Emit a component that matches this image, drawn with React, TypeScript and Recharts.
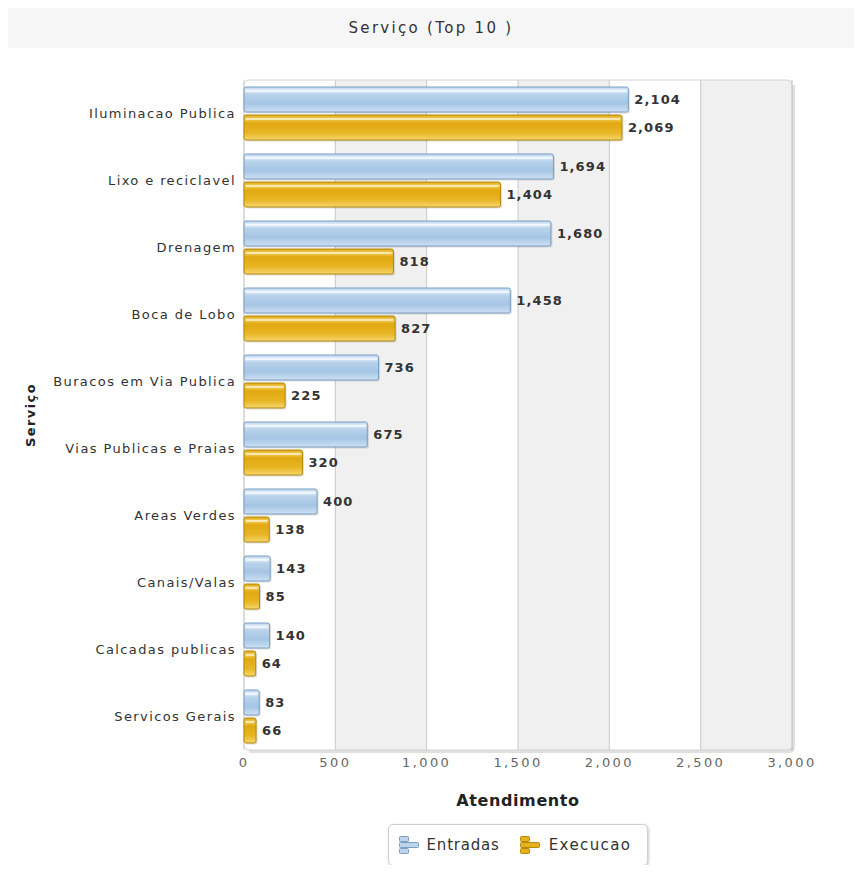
import React from "react";
import {
  BarChart,
  Bar,
  XAxis,
  YAxis,
  CartesianGrid,
  Legend,
  LabelList,
  Label,
} from "recharts";

// --- data ---
const categories = [
  "Iluminacao Publica",
  "Lixo e reciclavel",
  "Drenagem",
  "Boca de Lobo",
  "Buracos em Via Publica",
  "Vias Publicas e Praias",
  "Areas Verdes",
  "Canais/Valas",
  "Calcadas publicas",
  "Servicos Gerais",
];
const entradas = [2104, 1694, 1680, 1458, 736, 675, 400, 143, 140, 83];
const execucao = [2069, 1404, 818, 827, 225, 320, 138, 85, 64, 66];
const xTicks = [0, 500, 1000, 1500, 2000, 2500, 3000];

const data = categories.map((name, i) => ({
  name,
  entradas: entradas[i],
  execucao: execucao[i],
}));

const W = 846;
const H = 825;
const MARGIN = { top: 32, right: 62, left: 0, bottom: 93 };
const Y_AXIS_W = 236;
const X_AXIS_H = 30;
// plot box, derived from the margins above
const PLOT = {
  x: MARGIN.left + Y_AXIS_W,
  y: MARGIN.top,
  w: W - MARGIN.left - Y_AXIS_W - MARGIN.right,
  h: H - MARGIN.top - MARGIN.bottom - X_AXIS_H,
};

const FONT = "'DejaVu Sans', Verdana, sans-serif";
const fmt = (v: number) => Number(v).toLocaleString("en-US");

const BLUE_STROKE = "#7a9fc4";
const GOLD_STROKE = "#b38a0d";

const GlassBar = (props: any) => {
  const { x, y, width, height, grad, stroke } = props;
  if (!width || width <= 0) return null;
  return (
    <g>
      <rect x={x + 1.5} y={y + 1.5} width={width} height={height} rx={2} fill="rgba(0,0,0,0.13)" />
      <rect x={x} y={y} width={width} height={height} rx={2} fill={`url(#${grad})`} stroke={stroke} strokeWidth={1} />
      {width > 6 && (
        <rect x={x + 2} y={y + 3} width={width - 4} height={2} fill="rgba(255,255,255,0.55)" />
      )}
    </g>
  );
};

// gradients + soft shadow along the right and bottom of the plot box
const PlotDecor = () => {
  const r = PLOT.x + PLOT.w;
  const b = PLOT.y + PLOT.h;
  return (
    <g>
      <defs>
        <linearGradient id="gBlue" x1="0" y1="0" x2="0" y2="1">
          <stop offset="0" stopColor="#bcd4ec" />
          <stop offset="0.14" stopColor="#e2eef9" />
          <stop offset="0.3" stopColor="#b8d2eb" />
          <stop offset="0.65" stopColor="#a5c5e5" />
          <stop offset="1" stopColor="#cde0f2" />
        </linearGradient>
        <linearGradient id="gGold" x1="0" y1="0" x2="0" y2="1">
          <stop offset="0" stopColor="#e0a510" />
          <stop offset="0.15" stopColor="#f4d05a" />
          <stop offset="0.32" stopColor="#e1a810" />
          <stop offset="0.7" stopColor="#e8b524" />
          <stop offset="1" stopColor="#f6d66d" />
        </linearGradient>
      </defs>
      <path
        d={`M${r + 1.5},${PLOT.y + 5} L${r + 1.5},${b - 3} Q${r + 1.5},${b + 1.5} ${r - 3},${b + 1.5} L${PLOT.x + 5},${b + 1.5}`}
        fill="none"
        stroke="rgba(0,0,0,0.12)"
        strokeWidth={3}
      />
      <rect x={PLOT.x} y={PLOT.y} width={PLOT.w} height={PLOT.h} rx={5} fill="none" stroke="#d4d4d4" />
    </g>
  );
};

const LegendIcon = ({ fill, stroke }: { fill: string; stroke: string }) => (
  <svg width={20} height={20}>
    <rect x={0.5} y={1.5} width={9} height={5} rx={1} fill={fill} stroke={stroke} />
    <rect x={0.5} y={7.5} width={19} height={5} rx={1} fill={fill} stroke={stroke} />
    <rect x={0.5} y={13.5} width={9} height={5} rx={1} fill={fill} stroke={stroke} />
  </svg>
);

const LegendBox = () => (
  <div style={{ display: "flex", justifyContent: "center" }}>
    <div
      style={{
        display: "inline-flex",
        alignItems: "center",
        boxSizing: "border-box",
        height: 42,
        padding: "0 16px 0 10px",
        border: "1px solid #cfcfcf",
        borderRadius: 5,
        boxShadow: "1px 1px 3px rgba(0,0,0,0.2)",
        background: "#fff",
        fontFamily: FONT,
        fontSize: 15,
        letterSpacing: 0.8,
        color: "#333",
      }}
    >
      <LegendIcon fill="#bcd5ec" stroke={BLUE_STROKE} />
      <span style={{ marginLeft: 8, marginRight: 20 }}>Entradas</span>
      <LegendIcon fill="#e6b11c" stroke={GOLD_STROKE} />
      <span style={{ marginLeft: 9, letterSpacing: 1.4 }}>Execucao</span>
    </div>
  </div>
);

export default function App() {
  return (
    <div style={{ width: W, marginBottom: -8 }}>
      <div
        style={{
          height: 40,
          lineHeight: "40px",
          background: "#f6f6f6",
          textAlign: "center",
          fontFamily: FONT,
          fontSize: 15,
          letterSpacing: 2.3,
          color: "#333",
        }}
      >
        Serviço (Top 10 )
      </div>
      <BarChart
        width={W}
        height={H}
        data={data}
        layout="vertical"
        margin={MARGIN}
        barSize={25}
        barGap={3}
      >
        <CartesianGrid
          horizontal={false}
          stroke="#c9c9c9"
          strokeDasharray="0"
          verticalFill={["#ffffff", "#f0f0f0"]}
          fillOpacity={1}
        />
        <PlotDecor />
        <XAxis
          type="number"
          domain={[0, 3000]}
          ticks={xTicks}
          tickFormatter={fmt}
          axisLine={false}
          tickLine={false}
          height={X_AXIS_H}
          tick={{ fill: "#666", fontSize: 13, fontFamily: FONT, letterSpacing: 2.4 } as any}
        >
          <Label
            content={({ viewBox }: any) => (
              <text
                x={viewBox.x + viewBox.width / 2}
                y={viewBox.y + 56}
                textAnchor="middle"
                fontFamily={FONT}
                fontSize={16}
                fontWeight="bold"
                letterSpacing={0.6}
                fill="#222"
              >
                Atendimento
              </text>
            )}
          />
        </XAxis>
        <YAxis
          type="category"
          dataKey="name"
          width={Y_AXIS_W}
          axisLine={false}
          tickLine={false}
          interval={0}
          tick={{ fill: "#333", fontSize: 13, fontFamily: FONT, letterSpacing: 1.4 } as any}
        >
          <Label
            content={({ viewBox }: any) => {
              const cx = viewBox.x + 27;
              const cy = viewBox.y + viewBox.height / 2;
              return (
                <text
                  x={cx}
                  y={cy}
                  transform={`rotate(-90, ${cx}, ${cy})`}
                  textAnchor="middle"
                  fontFamily={FONT}
                  fontSize={13}
                  fontWeight="bold"
                  letterSpacing={1.4}
                  fill="#222"
                >
                  Serviço
                </text>
              );
            }}
          />
        </YAxis>
        <Legend
          verticalAlign="middle"
          align="center"
          layout="horizontal"
          wrapperStyle={{ top: 776, left: PLOT.x, width: PLOT.w }}
          content={() => <LegendBox />}
        />
        <Bar
          dataKey="entradas"
          name="Entradas"
          fill="#bcd5ec"
          isAnimationActive={false}
          shape={(p: any) => <GlassBar {...p} grad="gBlue" stroke={BLUE_STROKE} />}
        >
          <LabelList
            dataKey="entradas"
            position="right"
            offset={6}
            formatter={(v: any) => fmt(v)}
            style={{ fill: "#333", fontSize: 13, fontWeight: "bold", fontFamily: FONT, letterSpacing: 1.1 }}
          />
        </Bar>
        <Bar
          dataKey="execucao"
          name="Execucao"
          fill="#e6b11c"
          isAnimationActive={false}
          shape={(p: any) => <GlassBar {...p} grad="gGold" stroke={GOLD_STROKE} />}
        >
          <LabelList
            dataKey="execucao"
            position="right"
            offset={6}
            formatter={(v: any) => fmt(v)}
            style={{ fill: "#333", fontSize: 13, fontWeight: "bold", fontFamily: FONT, letterSpacing: 1.1 }}
          />
        </Bar>
      </BarChart>
    </div>
  );
}
